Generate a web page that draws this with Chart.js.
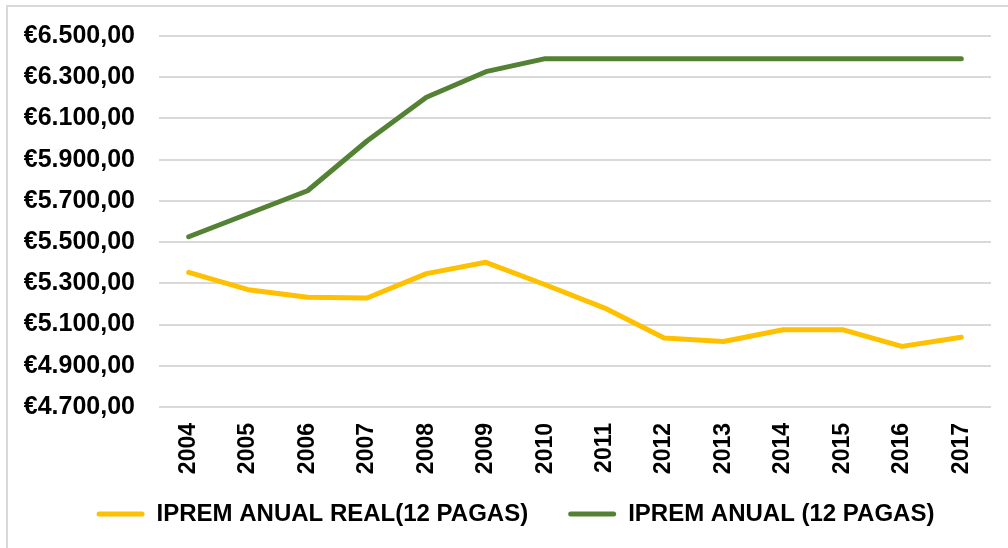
<!DOCTYPE html>
<html>
<head>
<meta charset="utf-8">
<script src="https://cdn.jsdelivr.net/npm/chart.js@4"></script>
<style>
  html, body { margin: 0; padding: 0; background: #fff; overflow: hidden; }
  #marco { position: absolute; left: 6px; top: 5px; width: 1010px; height: 560px; border: 2px solid #d9d9d9; }
  #caja { position: absolute; left: 0; top: 0; width: 1008px; height: 548px; }
</style>
</head>
<body>
<div id="marco"></div>
<div id="caja"><canvas id="meuGrafico" width="1008" height="548"></canvas></div>
<script>
// años
var anos = ["2004", "2005", "2006", "2007", "2008", "2009", "2010", "2011", "2012", "2013", "2014", "2015", "2016", "2017"];

// IPREM anual real (12 pagas)
var ipremReal = [5353, 5269, 5232, 5229, 5347, 5402, 5293, 5180, 5035, 5018, 5075, 5075, 4994, 5038];

// IPREM anual (12 pagas)
var ipremAnual = [5526.00, 5637.60, 5749.20, 5990.40, 6202.80, 6326.88, 6390.12, 6390.12, 6390.12, 6390.12, 6390.12, 6390.12, 6390.12, 6390.12];

var nombresSeries = ["IPREM ANUAL REAL(12 PAGAS)", "IPREM ANUAL (12 PAGAS)"];

var ejeMin = 4700;
var ejeMax = 6500;
var ejePaso = 200;

function formatoEuro(v) {
    var partes = v.toFixed(2).split(".");
    var entero = partes[0].replace(/\B(?=(\d{3})+(?!\d))/g, ".");
    return "€" + entero + "," + partes[1];
}

var fuente = "'Liberation Sans', Arial, sans-serif";

// corre la leyenda un poco a la derecha y hacia arriba, como en el original
var moverLeyenda = {
    id: "moverLeyenda",
    afterLayout: function (chart) {
        var l = chart.legend;
        l.left += 20;
        l.right += 20;
        l.top -= 12;
        l.bottom -= 12;
    }
};

var ctx = document.getElementById("meuGrafico").getContext("2d");

var grafico = new Chart(ctx, {
    type: "line",
    data: {
        labels: anos,
        datasets: [{
            label: nombresSeries[0],
            data: ipremReal,
            borderColor: "#FFC000",
            backgroundColor: "#FFC000",
            borderWidth: 5,
            borderCapStyle: "round",
            borderJoinStyle: "round",
            pointRadius: 0,
            tension: 0
        }, {
            label: nombresSeries[1],
            data: ipremAnual,
            borderColor: "#548235",
            backgroundColor: "#548235",
            borderWidth: 5,
            borderCapStyle: "round",
            borderJoinStyle: "round",
            pointRadius: 0,
            tension: 0
        }]
    },
    options: {
        responsive: false,
        animation: false,
        layout: { padding: { left: 0, right: 17, top: 36, bottom: 0 } },
        scales: {
            x: {
                offset: true,
                grid: { display: false, drawTicks: false },
                border: { display: false },
                ticks: {
                    color: "#000",
                    font: { family: fuente, size: 23, weight: "bold" },
                    minRotation: 90,
                    maxRotation: 90,
                    padding: 16
                },
                afterFit: function (s) { s.height = 67; }
            },
            y: {
                min: ejeMin,
                max: ejeMax,
                grid: { color: "#d9d9d9", lineWidth: 2, drawTicks: false },
                border: { display: false },
                ticks: {
                    stepSize: ejePaso,
                    color: "#000",
                    font: { family: fuente, size: 25, weight: "bold" },
                    padding: 24,
                    callback: function (v) { return formatoEuro(v); }
                },
                afterFit: function (s) {
                    s.width = 159;
                    s.paddingTop = 0;
                    s.paddingBottom = 0;
                }
            }
        },
        plugins: {
            legend: {
                position: "bottom",
                labels: {
                    color: "#000",
                    font: { family: fuente, size: 24, weight: "bold" },
                    boxWidth: 48,
                    boxHeight: 5,
                    padding: 40,
                    useBorderRadius: true,
                    borderRadius: 2.5,
                    generateLabels: function (chart) {
                        return Chart.defaults.plugins.legend.labels.generateLabels(chart).map(function (l) {
                            l.lineWidth = 0;
                            l.fillStyle = l.strokeStyle;
                            return l;
                        });
                    }
                }
            },
            tooltip: { enabled: false }
        }
    },
    plugins: [moverLeyenda]
});
</script>
</body>
</html>
